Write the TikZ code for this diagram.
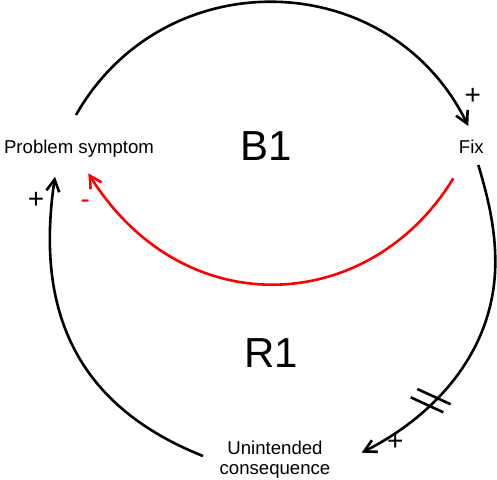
\documentclass[tikz,border=0pt]{standalone}
\usepackage{fontspec}
\setmainfont{Liberation Sans}
\usetikzlibrary{arrows.meta,calc}
\begin{document}
\begin{tikzpicture}[x=1pt,y=-1pt,
  lbl/.style={inner sep=0pt,font=\fontsize{18.6}{20}\selectfont},
  loopname/.style={inner sep=0pt,font=\fontsize{42}{42}\selectfont},
  polarity/.style={inner sep=0pt,font=\fontsize{28}{28}\selectfont},
  link/.style={line width=2.6pt,-{Straight Barb[length=12pt,width=13pt]}},
  balancing/.style={link,red},
  delay/.style={line width=2.6pt}]
\useasboundingbox (0,0) rectangle (497,479);

% variables
\node[lbl,anchor=base] (ps) at (79,153.3) {Problem symptom};
\node[lbl,anchor=base] (fix) at (471.3,153.3) {Fix};
\node[lbl,anchor=north,align=center] (uc) at (275,440.5) {Unintended\\consequence};

% loop identifiers
\node[loopname,anchor=base] (b1) at (266,160) {B1};
\node[loopname,anchor=base] (r1) at (271,367.3) {R1};

% causal links
\draw[link] ($(ps.base)+(-3,-38.3)$) .. controls (164.2,-40.1) and (389.5,-34.3) .. ($(fix.base)+(-3,-27.3)$);
\draw[link] ($(fix.base)+(7,11.7)$) .. controls (488.5,199) and (495.3,229) .. (495.3,262)
  .. controls (495.3,346.4) and (440.4,412.6) .. ($(uc.north)+(86.7,12.2)$);
\draw[link] ($(uc.north)+(-72,15.5)$) .. controls (70,403.1) and (36.1,303.3) .. ($(ps.base)+(-24,23.4)$);
\draw[balancing] ($(fix.base)+(-18,25)$) .. controls (370.1,314.9) and (183.7,325.9) .. ($(ps.base)+(9.3,20)$);

% delay mark on the fix -> consequence link
\draw[delay] (417.3,389) -- (450.7,404.3);
\draw[delay] (410.7,397.3) -- (443.3,412.3);

% link polarities
\node[polarity] (p1) at (472.7,96) {+};
\node[polarity] (p2) at (395.3,442) {+};
\node[polarity] (p3) at (36,200.8) {+};
\node[polarity,red] (p4) at (85.3,204.5) {-};
\end{tikzpicture}
\end{document}
